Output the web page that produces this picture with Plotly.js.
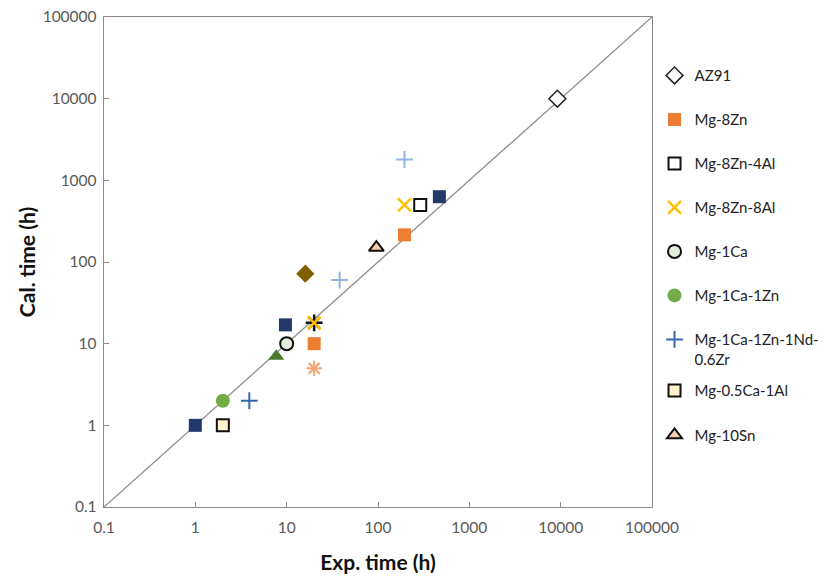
<!DOCTYPE html>
<html>
<head>
<meta charset="utf-8">
<script src="https://cdn.plot.ly/plotly-3.0.1.min.js"></script>
<style>html,body{margin:0;padding:0;background:#fff;}#chart{width:839px;height:579px;}</style>
</head>
<body>
<div id="chart"></div>
<script>
// Tick values / labels
const tickVals = [0.1, 1, 10, 100, 1000, 10000, 100000];
const tickText = ["0.1", "1", "10", "100", "1000", "10000", "100000"];

// Legend series (exp time, cal time)
const az91X = [9200];             const az91Y = [10000];
const mg8znX = [195, 20];         const mg8znY = [215, 10];
const mg8zn4alX = [290];          const mg8zn4alY = [500];
const mg8zn8alX = [195, 20];      const mg8zn8alY = [500, 18];
const mg1caX = [10];              const mg1caY = [10];
const mg1ca1znX = [2];            const mg1ca1znY = [2];
const mgNdZrX = [3.9];            const mgNdZrY = [2];
const mg05ca1alX = [2];           const mg05ca1alY = [1];
const mg10snX = [96];             const mg10snY = [150];

// Further points not listed in the legend
const navyX = [1, 9.7, 470];      const navyY = [1, 17, 630];
const oliveX = [16];              const oliveY = [72];
const dkGreenX = [7.7];           const dkGreenY = [7];
const ltBlueX = [38, 195];        const ltBlueY = [60, 1800];
const orangeStarX = [20];         const orangeStarY = [5];
const blackStarX = [20];          const blackStarY = [18];

// Reference line y = x
const diagX = [0.1, 100000];      const diagY = [0.1, 100000];

const traces = [
  {x: diagX, y: diagY, mode: 'lines', line: {color: '#8c8c8c', width: 1.3}, showlegend: false, hoverinfo: 'skip'},
  {x: navyX, y: navyY, mode: 'markers', marker: {symbol: 'square', size: 13, color: '#21396b'}, showlegend: false},
  {x: oliveX, y: oliveY, mode: 'markers', marker: {symbol: 'diamond', size: 14, color: '#806000'}, showlegend: false},
  {x: dkGreenX, y: dkGreenY, mode: 'markers', marker: {symbol: 'triangle-up', size: 14, color: '#477a2e'}, showlegend: false},
  {x: ltBlueX, y: ltBlueY, mode: 'markers', marker: {symbol: 'cross-thin-open', size: 12, color: '#8fb6e2', line: {color: '#8fb6e2', width: 2}}, showlegend: false},
  {x: orangeStarX, y: orangeStarY, mode: 'markers', marker: {symbol: 'asterisk-open', size: 13, color: '#f4a46e', line: {color: '#f4a46e', width: 2}}, showlegend: false},
  {x: blackStarX, y: blackStarY, mode: 'markers', marker: {symbol: 'asterisk-open', size: 14, color: '#111111', line: {color: '#111111', width: 2.5}}, showlegend: false},

  {name: 'AZ91', legendgroup: 'g1', x: az91X, y: az91Y, mode: 'markers', marker: {symbol: 'diamond', size: 13, color: '#ffffff', line: {color: '#222222', width: 1.5}}},
  {name: 'Mg-8Zn', legendgroup: 'g2', x: mg8znX, y: mg8znY, mode: 'markers', marker: {symbol: 'square', size: 13, color: '#ed7d31'}},
  {name: 'Mg-8Zn-4Al', legendgroup: 'g3', x: mg8zn4alX, y: mg8zn4alY, mode: 'markers', marker: {symbol: 'square', size: 12, color: '#ffffff', line: {color: '#111111', width: 2}}},
  {name: 'Mg-8Zn-8Al', legendgroup: 'g4', x: mg8zn8alX, y: mg8zn8alY, mode: 'markers', marker: {symbol: 'x-thin-open', size: 13, color: '#ffc000', line: {color: '#ffc000', width: 2.5}}},
  {name: 'Mg-1Ca', legendgroup: 'g5', x: mg1caX, y: mg1caY, mode: 'markers', marker: {symbol: 'circle', size: 13, color: '#e2efda', line: {color: '#111111', width: 2}}},
  {name: 'Mg-1Ca-1Zn', legendgroup: 'g6', x: mg1ca1znX, y: mg1ca1znY, mode: 'markers', marker: {symbol: 'circle', size: 14, color: '#70ad47'}},
  {name: 'Mg-1Ca-1Zn-1Nd-<br>0.6Zr', legendgroup: 'g7', x: mgNdZrX, y: mgNdZrY, mode: 'markers', marker: {symbol: 'cross-thin-open', size: 12, color: '#3568ad', line: {color: '#3568ad', width: 2}}},
  {name: 'Mg-0.5Ca-1Al', legend: 'legend2', legendgroup: 'g8', x: mg05ca1alX, y: mg05ca1alY, mode: 'markers', marker: {symbol: 'square', size: 12, color: '#fff2cc', line: {color: '#111111', width: 2}}},
  {name: 'Mg-10Sn', legend: 'legend2', legendgroup: 'g9', x: mg10snX, y: mg10snY, mode: 'markers', marker: {symbol: 'triangle-up', size: 13, color: '#f8cbad', line: {color: '#111111', width: 2}}}
];

const axisCommon = {
  type: 'log',
  range: [-1, 5],
  tickvals: tickVals,
  ticktext: tickText,
  showgrid: false,
  zeroline: false,
  showline: true,
  mirror: true,
  linecolor: '#8a8a8a',
  linewidth: 1.3,
  ticks: 'inside',
  ticklen: 5,
  tickcolor: '#8a8a8a',
  tickfont: {family: 'Lato, "Open Sans", sans-serif', size: 15.5, color: '#595959'}
};

const legendFont = {family: 'Lato, "Open Sans", sans-serif', size: 15, color: '#222222'};

const layout = {
  width: 839, height: 579,
  margin: {l: 104, r: 187, t: 17, b: 72},
  paper_bgcolor: '#ffffff', plot_bgcolor: '#ffffff',
  font: {family: 'Lato, "Open Sans", sans-serif', size: 14, color: '#222222'},
  xaxis: Object.assign({}, axisCommon, {
    ticklabelstandoff: 6,
    title: {text: 'Exp. time (h)', font: {family: 'Lato, sans-serif', size: 21, color: '#111111', weight: 'bold'}, standoff: 20}
  }),
  yaxis: Object.assign({}, axisCommon, {
    ticklabelstandoff: 3,
    title: {text: 'Cal. time (h)', font: {family: 'Lato, sans-serif', size: 21, color: '#111111', weight: 'bold'}, standoff: 1}
  }),
  showlegend: true,
  legend: {x: 1.0046, y: 0.914, xanchor: 'left', yanchor: 'top', valign: 'top', tracegroupgap: 21.5, bgcolor: 'rgba(0,0,0,0)', font: legendFont},
  legend2: {x: 1.0046, y: 0.271, xanchor: 'left', yanchor: 'top', valign: 'top', tracegroupgap: 22, bgcolor: 'rgba(0,0,0,0)', font: legendFont}
};

Plotly.newPlot('chart', traces, layout, {displayModeBar: false, staticPlot: true});
</script>
</body>
</html>
